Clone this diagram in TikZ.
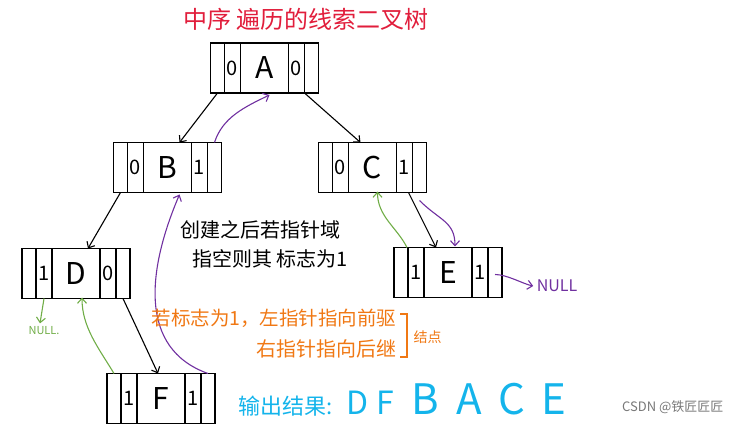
\documentclass[tikz,border=0pt]{standalone}
\usepackage{fontspec}
\setmainfont{Noto Sans CJK SC}
\usetikzlibrary{arrows.meta,calc}
\definecolor{tpurple}{RGB}{112,48,160}
\definecolor{tgreen}{RGB}{112,173,71}
\definecolor{torange}{RGB}{240,120,20}
\definecolor{tcyan}{RGB}{20,180,235}
\definecolor{tred}{RGB}{225,30,60}
\definecolor{tgray}{RGB}{120,120,120}
\tikzset{
  cellbase/.style={draw, line width=1.2pt, minimum height=50pt, inner sep=0pt, outer sep=0pt},
  midcell/.style={cellbase, minimum width=48pt, font=\fontsize{30}{30}\selectfont},
  tagcell/.style={cellbase, minimum width=16pt, font=\fontsize{20}{20}\selectfont},
  endcell/.style={cellbase, minimum width=14pt},
  tree/.style={-{Straight Barb[length=5pt,width=9pt]}, line width=1.1pt},
  thp/.style={tree, tpurple},
  thg/.style={tree, tgreen},
}
\newcommand\recbox[5]{%
  \node[midcell] (#1) at (#2) {#4};
  \node[tagcell, anchor=east] (#1l) at (#1.west) {#3};
  \node[tagcell, anchor=west] (#1r) at (#1.east) {#5};
  \node[endcell, anchor=east] (#1ll) at (#1l.west) {};
  \node[endcell, anchor=west] (#1rr) at (#1r.east) {};
}
\begin{document}
\begin{tikzpicture}[x=1pt,y=-1pt]
\useasboundingbox (0,0) rectangle (740,425);
% title
\node[tred, anchor=west, inner sep=0pt, font=\fontsize{24}{24}\selectfont] (title) at (183,19) {中序\hspace{5pt}遍历的线索二叉树};
% records
\recbox{A}{264.5,68}{0}{A}{0}
\recbox{B}{167.5,167.5}{0}{B}{1}
\recbox{C}{372.5,167.5}{0}{C}{1}
\recbox{D}{76,273.5}{1}{D}{0}
\recbox{E}{448,272.5}{1}{E}{1}
\recbox{F}{161,398.5}{1}{F}{1}
% tree edges
\draw[tree] (All.south) -- ([xshift=12pt]B.north);
\draw[tree] (Arr.south west) -- ([xshift=-12pt]C.north);
\draw[tree] (Bll.south) -- ([xshift=12pt]D.north);
\draw[tree] ([xshift=4pt]Cr.south) -- ([xshift=-12pt]E.north);
\draw[tree] (Drr.south) -- ([xshift=-3pt]F.north);
% threads
\draw[thp] (Brr.north) .. controls +(8,-25) and +(-25,12) .. ([xshift=5pt,yshift=-2pt]A.south);
\draw[thp] (Frr.north) .. controls +(-70,-25) and +(-32,75) .. ([xshift=12pt,yshift=-2pt]B.south);
\draw[thp] ([yshift=-8pt]Crr.south) .. controls +(20,20) and +(0,-25) .. ([xshift=7pt,yshift=1pt]E.north);
\node[tpurple, font=\fontsize{16}{16}\selectfont] (nullE) at (557,286) {NULL};
\draw[thp] ([yshift=-2pt]Err.center) .. controls +(12,0) and +(-10,-2) .. (nullE.west);
\draw[thg] ([xshift=6pt]Ell.north) .. controls +(-10,-20) and +(0,25) .. ([xshift=5pt,yshift=1pt]C.south);
\node[tgreen, font=\fontsize{11}{11}\selectfont] (nullD) at (44,331) {NULL.};
\draw[thg] (Dl.south) -- ([xshift=-4pt]nullD.north);
\draw[thg] (Fll.north) .. controls +(-15,-25) and +(0,30) .. ([xshift=6pt,yshift=1pt]D.south);
% notes
\node[font=\fontsize{20}{20}\selectfont] (note1) at (260,230) {创建之后若指针域};
\node[font=\fontsize{20}{20}\selectfont] (note2) at (270,259) {指空则其 标志为1};
\node[torange, font=\fontsize{19.5}{19.5}\selectfont, anchor=east] (or1) at (400,318) {若标志为1，左指针指向前驱};
\node[torange, font=\fontsize{20}{20}\selectfont, anchor=east] (or2) at (400,349) {右指针指向后继};
\draw[torange, line width=1.2pt] (400,314) -- (407,314) -- (407,357) -- (400,357);
\node[torange, font=\fontsize{14}{14}\selectfont, anchor=west] (jd) at (410,337) {结点};
\node[tcyan, anchor=west, inner sep=0pt] (out) at (238,400) {{\fontsize{22}{22}\selectfont 输出结果:\hspace{14pt}}{\fontsize{32}{32}\selectfont\addfontfeature{LetterSpace=25}DF\hspace{18pt}}{\fontsize{42}{42}\selectfont\addfontfeature{LetterSpace=40}BACE}};
\node[tgray, anchor=east, font=\fontsize{13}{13}\selectfont] (wm) at (727,407) {CSDN @铁匠匠匠};
\end{tikzpicture}
\end{document}
